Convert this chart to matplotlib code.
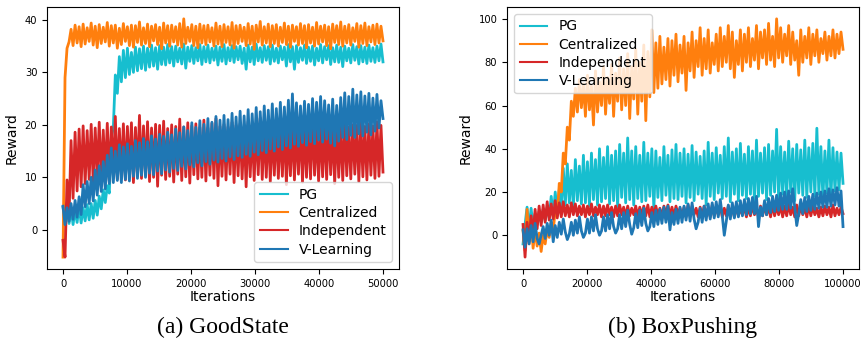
import numpy as np
import matplotlib.pyplot as plt

# --- data (noisy curves: alternating high / low samples) ---
N_POINTS = 160
iters_good = np.linspace(0, 50000, N_POINTS)
iters_box = np.linspace(0, 100000, N_POINTS)

labels = ['PG', 'Centralized', 'Independent', 'V-Learning']
colors = ['#17becf', '#ff7f0e', '#d62728', '#1f77b4']

# (a) GoodState
pg_good = [
    4.3, 1.6, 3.9, 1.2, 4.1, 1.0, 3.8, 1.4, 4.5, 1.3,
    4.2, 1.7, 4.8, 1.9, 5.0, 2.2, 5.6, 2.8, 6.4, 4.0,
    7.6, 5.2, 8.4, 7.0, 17.5, 19.5, 29.5, 26.0, 33.0, 28.2,
    34.2, 29.0, 34.6, 29.6, 33.8, 30.0, 34.8, 30.3, 34.5, 30.7,
    35.0, 30.4, 34.6, 31.0, 35.2, 31.2, 34.7, 30.6, 35.1, 31.5,
    34.8, 31.4, 35.3, 31.8, 34.9, 31.2, 35.0, 32.0, 34.6, 31.6,
    35.4, 30.8, 34.8, 32.1, 35.1, 31.7, 34.7, 32.2, 35.3, 31.5,
    34.9, 32.0, 35.2, 31.8, 34.6, 32.3, 35.0, 31.4, 34.8, 32.1,
    35.3, 31.6, 34.7, 32.2, 35.1, 31.9, 34.9, 32.4, 35.0, 31.7,
    34.6, 30.6, 35.2, 32.0, 34.8, 31.5, 35.4, 32.2, 34.7, 31.9,
    35.1, 32.3, 34.9, 31.6, 35.2, 32.1, 34.6, 31.8, 35.0, 32.4,
    34.8, 31.2, 35.3, 32.0, 34.9, 30.6, 35.1, 31.9, 34.7, 32.3,
    35.2, 31.7, 34.8, 32.1, 35.0, 31.4, 34.6, 32.2, 35.3, 31.8,
    34.9, 32.4, 35.1, 31.5, 34.7, 32.0, 35.2, 31.9, 34.8, 31.1,
    35.0, 32.2, 34.6, 31.8, 35.3, 32.3, 34.9, 31.6, 35.1, 32.0,
    34.8, 31.7, 35.2, 32.1, 34.7, 31.9, 35.0, 32.2, 35.4, 32.0,
]
central_good = [
    -5.2, 29.0, 34.6, 35.8, 38.2, 35.1, 39.0, 35.6, 38.7, 34.9,
    39.2, 35.4, 38.5, 35.9, 39.4, 35.2, 38.8, 34.7, 39.1, 35.5,
    38.6, 35.8, 39.5, 35.0, 38.9, 35.6, 39.0, 34.6, 38.4, 35.3,
    39.3, 35.9, 38.7, 35.1, 39.0, 34.8, 38.9, 35.7, 39.6, 35.2,
    38.5, 35.5, 39.2, 34.9, 38.8, 36.0, 39.1, 35.3, 38.6, 34.5,
    39.4, 35.6, 38.9, 35.0, 39.0, 35.8, 38.7, 35.2, 39.3, 34.8,
    40.2, 35.5, 38.6, 35.9, 39.1, 35.1, 38.8, 34.7, 39.2, 35.6,
    38.9, 35.3, 39.0, 35.8, 38.5, 35.0, 39.4, 35.4, 38.8, 34.9,
    39.1, 35.7, 38.7, 35.2, 39.5, 34.6, 38.9, 35.5, 39.0, 35.9,
    38.6, 35.1, 39.3, 35.4, 38.8, 34.4, 39.0, 35.8, 39.7, 35.2,
    38.7, 35.6, 39.2, 34.9, 38.9, 35.5, 39.1, 35.0, 38.6, 35.7,
    39.4, 35.3, 38.8, 34.8, 39.0, 35.9, 38.7, 35.2, 39.3, 35.5,
    38.9, 34.7, 39.1, 35.6, 38.6, 35.0, 39.5, 35.4, 38.8, 35.8,
    39.0, 35.1, 38.7, 34.5, 39.2, 35.7, 38.9, 35.3, 39.6, 35.0,
    38.8, 35.6, 39.1, 35.2, 38.5, 35.9, 39.3, 34.8, 38.9, 35.5,
    39.4, 35.1, 38.7, 35.8, 39.0, 35.3, 39.2, 35.6, 38.8, 36.0,
]
indep_good = [
    -2.0, -5.2, 9.5, 2.5, 17.0, 6.0, 18.6, 7.4, 19.2, 8.2,
    19.8, 8.8, 18.9, 9.6, 20.1, 9.1, 19.4, 10.2, 20.5, 9.4,
    19.0, 10.0, 20.3, 9.3, 19.6, 10.4, 21.6, 9.7, 19.3, 10.1,
    20.2, 9.5, 19.7, 10.6, 20.4, 9.0, 19.5, 10.3, 21.8, 9.8,
    19.8, 10.5, 20.6, 9.2, 19.4, 10.0, 20.1, 8.3, 19.9, 10.4,
    20.7, 9.6, 19.3, 10.2, 20.0, 9.1, 19.7, 10.6, 21.1, 9.4,
    19.6, 10.1, 20.4, 8.9, 19.8, 10.5, 20.2, 9.7, 19.5, 10.0,
    20.9, 9.3, 19.4, 10.4, 20.3, 9.8, 21.2, 8.4, 19.7, 10.2,
    20.1, 9.5, 19.6, 10.6, 20.5, 9.0, 19.9, 10.3, 20.2, 9.7,
    19.5, 8.2, 20.6, 10.1, 19.8, 9.4, 20.3, 10.5, 21.3, 9.6,
    19.7, 10.0, 20.4, 9.2, 19.6, 10.4, 20.0, 9.8, 19.9, 10.2,
    20.7, 8.6, 19.4, 10.3, 20.2, 9.5, 19.8, 10.6, 20.5, 9.1,
    19.6, 10.0, 20.1, 9.7, 21.0, 10.4, 19.5, 9.3, 20.3, 10.1,
    19.9, 9.6, 20.6, 10.5, 19.7, 8.8, 20.2, 10.0, 19.8, 9.4,
    20.4, 10.3, 19.6, 9.7, 20.0, 10.6, 19.9, 9.2, 20.5, 10.1,
    19.7, 9.5, 20.2, 10.4, 19.8, 9.8, 20.6, 10.2, 19.9, 11.0,
]
vlearn_good = [
    4.5, 1.0, 4.2, 1.6, 5.0, 2.0, 5.6, 2.4, 6.3, 2.9,
    8.6, 4.4, 9.2, 5.0, 10.0, 5.5, 11.4, 6.6, 12.2, 7.3,
    13.0, 7.8, 14.2, 8.8, 15.6, 9.0, 15.0, 9.4, 16.2, 9.0,
    15.8, 9.6, 16.4, 9.3, 15.9, 10.2, 17.0, 9.8, 16.6, 10.4,
    17.4, 10.0, 16.8, 10.8, 17.9, 10.5, 17.3, 11.2, 18.2, 10.7,
    17.8, 11.4, 18.6, 11.0, 18.1, 11.7, 19.2, 11.3, 18.5, 12.1,
    19.6, 11.6, 18.9, 12.4, 20.4, 12.0, 19.5, 12.8, 20.8, 12.2,
    20.1, 13.0, 21.2, 12.5, 20.5, 13.3, 21.6, 12.9, 20.9, 13.6,
    21.8, 13.1, 21.0, 13.9, 22.2, 13.4, 21.5, 14.1, 22.6, 13.8,
    21.7, 14.4, 22.9, 14.0, 22.1, 14.8, 23.3, 14.3, 22.5, 15.1,
    23.6, 14.7, 22.8, 15.4, 24.0, 15.0, 23.1, 15.8, 24.3, 15.3,
    23.4, 16.0, 24.7, 15.6, 25.9, 16.3, 24.2, 15.9, 23.6, 16.6,
    24.5, 16.1, 23.9, 16.8, 25.0, 16.4, 24.3, 17.1, 25.4, 16.7,
    24.6, 17.3, 23.8, 16.5, 24.9, 16.0, 23.7, 16.9, 25.2, 17.6,
    26.1, 17.2, 25.4, 18.0, 26.8, 17.6, 25.7, 18.3, 26.3, 17.9,
    25.5, 18.6, 26.0, 18.1, 25.1, 18.8, 25.8, 19.4, 24.6, 21.2,
]

# (b) BoxPushing
pg_box = [
    -4.0, 5.0, 13.0, 3.0, 12.5, 4.0, 10.0, 5.0, 11.0, 6.0,
    12.0, 7.0, 13.0, 8.0, 18.0, 9.0, 20.0, 10.0, 21.0, 12.0,
    31.0, 14.0, 33.0, 15.0, 30.0, 13.0, 35.0, 16.0, 32.0, 14.5,
    37.0, 15.0, 34.0, 13.5, 38.0, 16.5, 35.0, 14.0, 40.0, 15.5,
    36.0, 17.0, 41.0, 14.5, 37.0, 16.0, 39.0, 13.0, 42.0, 17.5,
    38.0, 15.0, 45.0, 16.5, 39.0, 14.0, 41.0, 17.0, 37.0, 15.5,
    43.0, 16.0, 38.0, 18.0, 40.0, 12.0, 39.0, 17.5, 36.0, 16.0,
    41.0, 18.5, 37.0, 15.5, 39.5, 17.0, 42.0, 16.5, 38.0, 18.0,
    40.0, 15.0, 37.5, 17.5, 41.5, 16.0, 38.5, 19.0, 36.5, 17.0,
    39.0, 14.0, 43.0, 18.0, 38.0, 16.5, 40.5, 19.5, 37.0, 17.0,
    41.0, 18.0, 45.0, 15.5, 38.5, 19.0, 40.0, 16.0, 42.5, 18.5,
    37.5, 17.0, 41.0, 19.0, 39.0, 15.0, 44.0, 18.0, 38.0, 19.5,
    40.5, 16.5, 42.0, 18.5, 39.0, 20.0, 49.0, 17.0, 41.0, 19.0,
    38.5, 18.0, 43.5, 20.0, 40.0, 16.0, 42.0, 19.5, 39.5, 18.5,
    44.0, 17.5, 40.5, 20.0, 42.5, 18.0, 49.5, 19.0, 41.0, 17.0,
    39.0, 19.5, 44.0, 18.0, 40.5, 20.5, 38.5, 21.0, 38.0, 24.0,
]
central_box = [
    2.0, -7.0, 12.0, -4.0, 8.0, -6.0, 3.0, -5.0, 1.0, -7.5,
    0.0, -4.0, 3.0, -1.0, 6.0, 2.0, 12.0, 9.0, 24.0, 20.0,
    38.0, 33.0, 50.0, 44.0, 62.0, 55.0, 68.0, 57.0, 72.0, 59.0,
    70.0, 55.0, 74.0, 58.0, 69.0, 51.0, 76.0, 57.0, 71.0, 60.0,
    78.0, 56.0, 73.0, 61.0, 79.0, 55.0, 75.0, 62.0, 82.0, 58.0,
    77.0, 60.0, 84.0, 54.0, 78.0, 63.0, 86.0, 56.0, 80.0, 62.0,
    88.0, 53.0, 85.0, 64.0, 95.0, 66.0, 89.0, 68.0, 92.0, 70.0,
    87.0, 72.0, 91.0, 69.0, 90.0, 74.0, 93.0, 71.0, 88.0, 75.0,
    92.0, 67.0, 89.0, 76.0, 94.0, 73.0, 90.0, 78.0, 96.0, 74.0,
    91.0, 77.0, 95.0, 75.0, 89.0, 79.0, 93.0, 76.0, 96.0, 78.0,
    92.0, 80.0, 97.0, 77.0, 94.0, 73.0, 90.0, 79.0, 95.0, 76.0,
    93.0, 80.0, 96.0, 78.0, 91.0, 81.0, 97.0, 77.0, 94.0, 82.0,
    95.0, 79.0, 98.0, 81.0, 92.0, 78.0, 100.1, 82.0, 96.0, 80.0,
    93.0, 83.0, 97.0, 79.0, 94.0, 81.0, 90.0, 74.0, 95.0, 80.0,
    92.0, 82.0, 96.0, 79.0, 93.0, 83.0, 95.0, 80.0, 91.0, 84.0,
    94.0, 81.0, 92.0, 83.0, 95.0, 82.0, 93.0, 84.0, 94.0, 86.0,
]
indep_box = [
    5.0, -10.1, 6.0, -3.0, 9.0, 0.0, 12.0, 3.0, 13.5, 4.5,
    14.0, 6.0, 15.5, 7.0, 14.5, 7.5, 16.0, 8.0, 15.0, 8.5,
    15.5, 9.0, 14.0, 8.5, 15.0, 9.5, 14.5, 9.0, 13.5, 9.5,
    14.0, 8.5, 13.5, 9.5, 14.5, 9.0, 13.0, 9.5, 14.0, 8.5,
    13.5, 9.0, 14.0, 9.5, 13.0, 8.5, 13.5, 9.0, 14.0, 9.5,
    13.0, 8.5, 13.5, 9.0, 12.5, 9.5, 13.5, 8.5, 13.0, 9.0,
    13.5, 9.0, 14.0, 8.5, 13.0, 9.5, 13.5, 9.0, 12.5, 8.5,
    13.5, 9.5, 14.0, 9.0, 13.0, 8.5, 13.5, 9.5, 12.5, 9.0,
    13.0, 8.5, 14.0, 9.0, 13.5, 9.5, 12.5, 8.5, 13.0, 9.0,
    13.5, 9.5, 12.5, 8.5, 14.0, 9.0, 13.0, 9.5, 13.5, 8.5,
    12.5, 9.0, 13.5, 9.5, 13.0, 8.5, 14.0, 9.0, 12.5, 9.5,
    13.5, 8.5, 13.0, 9.0, 14.0, 9.5, 12.5, 8.5, 13.5, 9.0,
    14.0, 9.5, 13.0, 8.5, 14.5, 9.0, 13.5, 9.5, 14.0, 8.5,
    13.5, 9.0, 14.5, 9.5, 13.0, 8.5, 14.0, 9.0, 13.5, 9.5,
    13.0, 8.5, 14.0, 9.0, 13.5, 9.5, 12.5, 8.5, 13.0, 9.0,
    13.5, 9.5, 13.0, 8.5, 14.0, 9.0, 12.5, 9.5, 13.0, 10.0,
]
vlearn_box = [
    2.5, -5.5, 3.0, -4.0, 4.5, -3.0, 5.5, -1.5, -4.0, 0.0,
    4.0, -1.5, 5.5, 0.0, 7.0, -3.0, 4.5, -1.0, 6.0, 0.5,
    7.5, 1.5, -2.0, 0.5, 6.0, 0.0, 7.0, 1.0, 8.5, 2.0,
    -1.0, 1.0, 7.5, 1.0, 8.5, 2.0, 9.5, 3.0, 0.0, 2.0,
    8.5, 2.0, 9.5, 3.0, 10.5, 4.0, 1.0, 3.0, 9.5, 3.0,
    10.5, 4.0, 11.5, 5.0, 0.5, 3.5, 10.0, 3.5, 11.5, 4.5,
    12.5, 5.5, 2.0, 4.0, 10.5, 4.0, 11.5, 5.0, 12.0, 5.5,
    13.0, 6.0, 13.5, 2.5, 10.5, 5.0, 12.0, 5.5, 13.0, 6.0,
    13.5, 7.0, 14.5, 6.5, 15.0, 7.5, 3.0, 6.0, 12.5, 6.0,
    13.5, 7.0, 14.5, 7.5, 15.0, 8.0, 15.5, 8.5, 16.5, 9.0,
    0.0, 6.5, 14.0, 7.5, 15.0, 8.0, 15.5, 8.5, 16.0, 9.0,
    16.5, 9.5, 17.0, 10.0, 17.5, 10.0, 18.0, 4.0, 13.0, 9.0,
    16.0, 9.5, 17.0, 10.5, 18.0, 11.0, 18.5, 11.5, 19.5, 12.0,
    20.0, 12.0, 20.5, 12.5, 21.5, 13.0, 4.5, 10.0, 16.5, 10.0,
    17.5, 11.0, 18.0, 11.5, 19.0, 12.0, 19.5, 12.5, 20.0, 13.0,
    20.5, 13.0, 21.5, 13.5, 21.0, 14.0, 22.0, 13.5, 20.5, 4.0,
]

fig = plt.figure(figsize=(8.61, 3.46), dpi=100)

panels = [
    ([0.0546, 0.2225, 0.4088, 0.7575], iters_good,
     [pg_good, central_good, indep_good, vlearn_good], 'lower right', '(a) GoodState'),
    ([0.5889, 0.2225, 0.4088, 0.7575], iters_box,
     [pg_box, central_box, indep_box, vlearn_box], 'upper left', '(b) BoxPushing'),
]

for rect, iters, series, legend_loc, caption in panels:
    ax = fig.add_axes(rect)
    for vals, lab, col in zip(series, labels, colors):
        ax.plot(iters, vals, color=col, lw=2.0, label=lab)
    ax.set_xlabel('Iterations', fontsize=10, labelpad=1)
    ax.set_ylabel('Reward', fontsize=10)
    ax.tick_params(labelsize=7.2)
    leg = ax.legend(loc=legend_loc, fontsize=10, labelspacing=0.3)
    for h in leg.get_lines():
        h.set_linewidth(1.5)
    # caption under the panel
    cx = rect[0] + rect[2] / 2
    fig.text(cx, 0.055, caption, ha='center', va='center',
             fontsize=17, family='Liberation Serif')

plt.savefig('out.png', dpi=100)
